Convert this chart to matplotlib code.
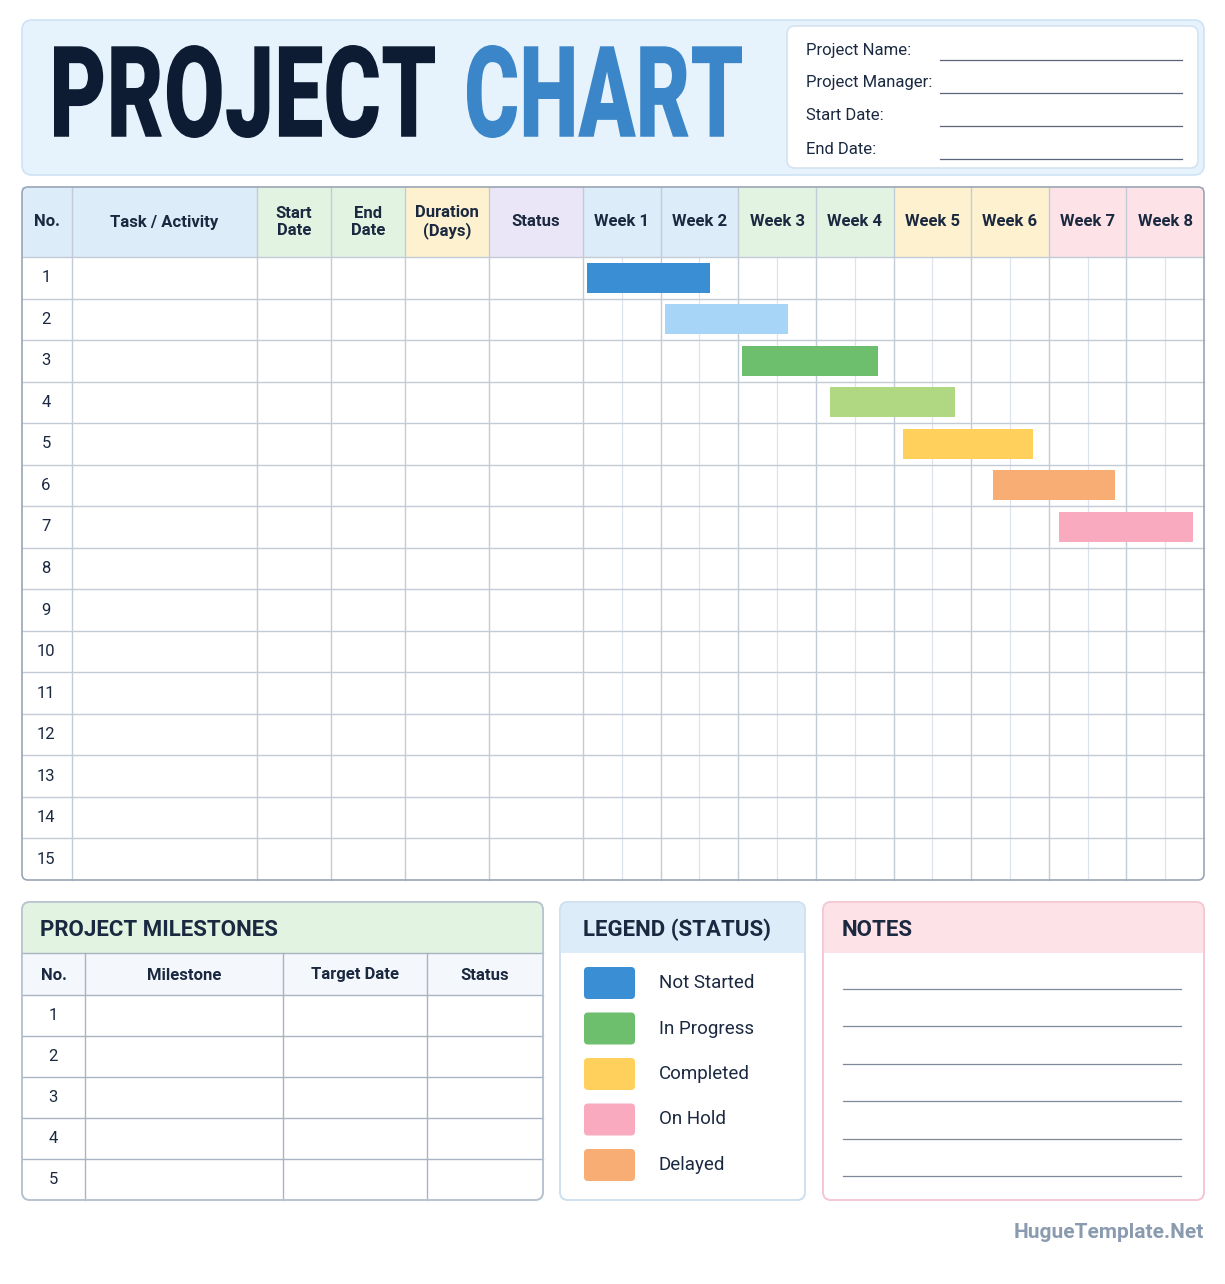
import matplotlib
matplotlib.use('Agg')
import matplotlib.pyplot as plt
from matplotlib.patches import Rectangle, FancyBboxPatch, PathPatch
from matplotlib.textpath import TextPath
from matplotlib.font_manager import FontProperties
from matplotlib.transforms import Affine2D

plt.rcParams['font.family'] = ['Roboto', 'DejaVu Sans']

# data
info_labels = ["Project Name:", "Project Manager:", "Start Date:", "End Date:"]
col_labels = ["No.", "Task / Activity", "Start\nDate", "End\nDate", "Duration\n(Days)", "Status"]
week_labels = ["Week 1", "Week 2", "Week 3", "Week 4", "Week 5", "Week 6", "Week 7", "Week 8"]
task_nums = list(range(1, 16))
bar_start = [0.05, 1.06, 2.05, 3.18, 4.12, 5.28, 6.13]   # in weeks
bar_end = [1.63, 2.64, 3.80, 4.79, 5.80, 6.85, 7.86]
bar_colors = ["#3a8fd4", "#a6d5f7", "#6dbf6d", "#b0d882", "#ffd15c", "#f8ad74", "#f9aabf"]
milestone_cols = ["No.", "Milestone", "Target Date", "Status"]
milestone_nums = [1, 2, 3, 4, 5]
legend_labels = ["Not Started", "In Progress", "Completed", "On Hold", "Delayed"]
legend_colors = ["#3a8fd4", "#6dbf6d", "#ffd15c", "#f9aabf", "#f8ad74"]

BLUE_H, GREEN_H, YEL_H, LAV_H, PINK_H = "#dcecf9", "#e2f3e2", "#fdf1cf", "#ebe6f7", "#fde2e8"
GRID = "#c3cbd6"
TXT = "#1b2940"

fig = plt.figure(figsize=(12.25, 12.84), dpi=100)
ax = fig.add_axes([0, 0, 1, 1])
ax.set_xlim(0, 1225)
ax.set_ylim(1284, 0)
ax.axis('off')

def rbox(x0, y0, x1, y1, fc, ec, r=8, lw=1.2, z=1):
    ax.add_patch(FancyBboxPatch((x0, y0), x1 - x0, y1 - y0,
                                boxstyle=f"round,pad=0,rounding_size={r}",
                                fc=fc, ec=ec, lw=lw, zorder=z))

def big_text(s, x0, x1, ytop, ybot, color):
    fp = FontProperties(family='Roboto', weight='black')
    tp = TextPath((0, 0), s, size=1, prop=fp)
    ext = tp.get_extents()
    sx = (x1 - x0) / ext.width
    sy = (ybot - ytop) / ext.height
    tr = Affine2D().translate(-ext.x0, -ext.y0).scale(sx, -sy).translate(x0, ybot)
    ax.add_patch(PathPatch(tr.transform_path(tp), fc=color, ec='none', zorder=5))

# header
rbox(22, 20, 1204, 175, "#e6f2fc", "#cfe3f5", r=10)
big_text("PROJECT", 54, 435, 45, 138, "#0d1b33")
big_text("CHART", 467, 742, 45, 138, "#3a86c8")
rbox(787, 26, 1198, 168, "white", "#d5e3f0", r=8)
for i, lab in enumerate(info_labels):
    y = 50 + i * 33
    ax.text(806, y, lab, fontsize=12, color=TXT, va='center', ha='left')
    ax.plot([940, 1182], [y + 10, y + 10], color="#5a6678", lw=0.9)

# main table
edges = [22, 72, 257, 331, 405, 489, 583]
wx0, wx1 = 583, 1204
ww = (wx1 - wx0) / 8
week_edges = [wx0 + i * ww for i in range(9)]
top, hb = 187, 257
rh = (880 - hb) / 15
head_fc = [BLUE_H, BLUE_H, GREEN_H, GREEN_H, YEL_H, LAV_H]
week_fc = [BLUE_H, BLUE_H, GREEN_H, GREEN_H, YEL_H, YEL_H, PINK_H, PINK_H]
ax.add_patch(Rectangle((22, top), 1182, 880 - top, fc='white', ec='none', zorder=0))
for i, lab in enumerate(col_labels):
    ax.add_patch(Rectangle((edges[i], top), edges[i + 1] - edges[i], hb - top, fc=head_fc[i], ec='none', zorder=1))
    ax.text((edges[i] + edges[i + 1]) / 2, (top + hb) / 2, lab, fontsize=12, weight='bold',
            color=TXT, ha='center', va='center', linespacing=1.2, zorder=3)
for i, lab in enumerate(week_labels):
    ax.add_patch(Rectangle((week_edges[i], top), ww, hb - top, fc=week_fc[i], ec='none', zorder=1))
    ax.text(week_edges[i] + ww / 2, (top + hb) / 2, lab, fontsize=12, weight='bold',
            color=TXT, ha='center', va='center', zorder=3)
# grid lines
for x in edges[1:] + week_edges[1:-1]:
    ax.plot([x, x], [top, 880], color=GRID, lw=1, zorder=2)
for i in range(8):
    xm = week_edges[i] + ww / 2
    ax.plot([xm, xm], [hb, 880], color="#dde3ea", lw=0.9, zorder=2)
ax.plot([22, 1204], [hb, hb], color=GRID, lw=1, zorder=2)
for r in range(1, 15):
    y = hb + r * rh
    ax.plot([22, 1204], [y, y], color=GRID, lw=1, zorder=2)
for n in task_nums:
    ax.text(46, hb + (n - 0.5) * rh, str(n), fontsize=12, color=TXT, ha='center', va='center', zorder=3)
for r, (s, e, c) in enumerate(zip(bar_start, bar_end, bar_colors)):
    yc = hb + (r + 0.5) * rh
    ax.add_patch(Rectangle((wx0 + s * ww, yc - 15), (e - s) * ww, 30, fc=c, ec='none', zorder=4))
rbox(22, top, 1204, 880, 'none', "#9aa6b5", r=6, lw=1.2, z=5)

# milestones
rbox(22, 902, 543, 1200, 'white', "#b7c3cf", r=8, z=1)
rbox(22, 902, 543, 953, GREEN_H, 'none', r=8, z=1.5)
ax.add_patch(Rectangle((22, 930), 521, 23, fc=GREEN_H, ec='none', zorder=1.5))
ax.text(40, 930, "PROJECT MILESTONES", fontsize=16, weight='bold', color=TXT, va='center', zorder=3)
mc = [22, 85, 283, 427, 543]
ax.add_patch(Rectangle((22, 953), 521, 42, fc="#f4f7fb", ec='none', zorder=1.5))
for i, lab in enumerate(milestone_cols):
    ax.text((mc[i] + mc[i + 1]) / 2, 975, lab, fontsize=12, weight='bold', color=TXT,
            ha='center', va='center', zorder=3)
for x in mc[1:-1]:
    ax.plot([x, x], [953, 1200], color="#a9b4c2", lw=1, zorder=2)
ax.plot([22, 543], [953, 953], color="#a9b4c2", lw=1, zorder=2)
mrh = (1200 - 995) / 5
for r in range(5):
    y = 995 + r * mrh
    ax.plot([22, 543], [y, y], color="#a9b4c2", lw=1, zorder=2)
    ax.text(53, y + mrh / 2, str(milestone_nums[r]), fontsize=12, color=TXT, ha='center', va='center', zorder=3)
rbox(22, 902, 543, 1200, 'none', "#b7c3cf", r=8, z=5)

# legend
rbox(560, 902, 805, 1200, 'white', "#cfe0ef", r=8, z=1)
rbox(560, 902, 805, 953, BLUE_H, 'none', r=8, z=1.5)
ax.add_patch(Rectangle((560, 930), 245, 23, fc=BLUE_H, ec='none', zorder=1.5))
ax.text(583, 930, "LEGEND (STATUS)", fontsize=16, weight='bold', color=TXT, va='center', zorder=3)
for i, (lab, c) in enumerate(zip(legend_labels, legend_colors)):
    y = 983 + i * 45.5
    rbox(584, y - 16, 635, y + 16, c, 'none', r=4, z=3)
    ax.text(659, y, lab, fontsize=13.5, color=TXT, va='center', zorder=3)
rbox(560, 902, 805, 1200, 'none', "#cfe0ef", r=8, z=5)

# notes
rbox(823, 902, 1204, 1200, 'white', "#f5c8d3", r=8, z=1)
rbox(823, 902, 1204, 953, PINK_H, 'none', r=8, z=1.5)
ax.add_patch(Rectangle((823, 930), 381, 23, fc=PINK_H, ec='none', zorder=1.5))
ax.text(842, 930, "NOTES", fontsize=16, weight='bold', color=TXT, va='center', zorder=3)
for i in range(6):
    y = 989 + i * 37.4
    ax.plot([843, 1181], [y, y], color="#7d8898", lw=0.9, zorder=3)
rbox(823, 902, 1204, 1200, 'none', "#f5c8d3", r=8, z=5)

ax.text(1204, 1233, "HugueTemplate.Net", fontsize=15, weight='bold', color="#8a9bb0",
        ha='right', va='center')

fig.savefig("out.png", dpi=100)
